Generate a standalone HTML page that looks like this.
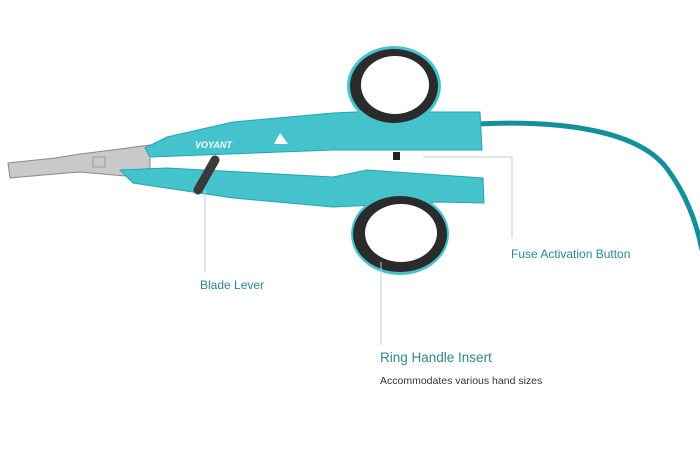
<!DOCTYPE html>
<html><head><meta charset="utf-8"><style>
html,body{margin:0;padding:0;background:#fff;}
.w{position:relative;width:700px;height:475px;overflow:hidden;font-family:"Liberation Sans",sans-serif;}
.t{position:absolute;color:#2d8793;white-space:nowrap;}
</style></head><body><div class="w">
<svg width="700" height="475" style="position:absolute;left:0;top:0">
<path d="M478,124 C560,120 640,130 668,170 C690,200 698,230 702,250" fill="none" stroke="#13909c" stroke-width="5"/>
<path d="M8,163 L55,158 L80,154 L120,149 L150,145 L150,168 L125,176 L80,172 L55,174 L10,178 Z" fill="#c9c9c9" stroke="#8a8a8a" stroke-width="1"/>
<rect x="93" y="157" width="12" height="10" fill="none" stroke="#999"/>
<path d="M145,148 L167,137 L233,122 L333,113 L355,112 L480,112 L482,150 L333,150 L150,157 Z" fill="#45c3cd" stroke="#23a5b2"/>
<ellipse cx="394" cy="86" rx="47" ry="40" fill="#45c3cd"/>
<ellipse cx="394" cy="86" rx="44" ry="37" fill="#2b2b2b"/>
<ellipse cx="395" cy="85" rx="34" ry="29" fill="#fff"/>
<path d="M120,170 L167,168 L333,177 L367,170 L483,178 L484,203 L440,202 L333,207 L233,198 L133,183 Z" fill="#45c3cd" stroke="#23a5b2"/>
<ellipse cx="400" cy="234" rx="49" ry="41" fill="#45c3cd"/>
<ellipse cx="400" cy="234" rx="47" ry="38" fill="#2b2b2b"/>
<ellipse cx="401" cy="233" rx="36" ry="29" fill="#fff"/>
<path d="M198,190 L215,160" stroke="#3a3a3a" stroke-width="9" stroke-linecap="round"/>
<rect x="393" y="152" width="7" height="8" fill="#222"/>
<text x="195" y="148" font-size="9" font-style="italic" font-weight="bold" fill="#fff" font-family="Liberation Sans">VOYANT</text>
<path d="M280,133 L288,144 L274,144 Z" fill="#fff"/>
<g stroke="#b8d0d6" stroke-width="1" fill="none">
<path d="M205,190 L205,272"/>
<path d="M423,157 L512,157 L512,238"/>
<path d="M381,262 L381,345"/>
</g>
</svg>
<div class="t" style="left:511px;top:247px;font-size:12px">Fuse Activation Button</div>
<div class="t" style="left:200px;top:278px;font-size:12px">Blade Lever</div>
<div class="t" style="left:380px;top:350px;font-size:13.5px">Ring Handle Insert</div>
<div class="t" style="left:380px;top:375px;font-size:10.5px;color:#333">Accommodates various hand sizes</div>
</div></body></html>
